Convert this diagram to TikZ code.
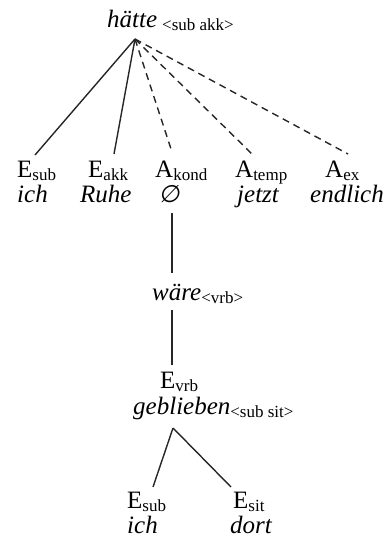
\documentclass[tikz,border=0pt]{standalone}
\usepackage{fontspec}
\setmainfont{Liberation Serif}
\newfontfamily\symfont[FakeSlant=0.15]{DejaVu Sans}
% lowered small label for valency subscripts
\newcommand{\lo}[1]{\raisebox{-3pt}{\fontsize{17}{17}\selectfont #1}}
\begin{document}
\begin{tikzpicture}[x=1pt,y=-1pt,
  word/.style={inner sep=0pt,anchor=base west,font=\fontsize{25}{30}\selectfont},
  link/.style={line width=1.4pt,draw=black!85},
  optlink/.style={link,dash pattern=on 7pt off 5pt}]
\useasboundingbox (0,0) rectangle (389,544);

% top verb
\node[word] (hatte) at (107,27) {\textit{hätte}\hspace{5pt}\lo{<sub akk>}};
\coordinate (apex) at (135,39);

% complements and adjuncts of the top verb
\node[word] (esub)  at (17,177)  {E\lo{sub}};
\node[word] (eakk)  at (88,177)  {E\lo{akk}};
\node[word] (akond) at (155,177) {A\lo{kond}};
\node[word] (atemp) at (235,177) {A\lo{temp}};
\node[word] (aex)   at (325,177) {A\lo{ex}};

\node[word] (ich)     at (17,202)  {\textit{ich}};
\node[word] (ruhe)    at (80,202)  {\textit{Ruhe}};
\node[word] (empty)   at (159,202) {\symfont\fontsize{24}{28}\selectfont ∅};
\node[word] (jetzt)   at (237,202) {\textit{jetzt}};
\node[word] (endlich) at (310,202) {\textit{endlich}};

\coordinate (esub-t)  at (35,155);
\coordinate (eakk-t)  at (114,154);
\coordinate (akond-t) at (172,152);
\coordinate (atemp-t) at (252,154);
\coordinate (aex-t)   at (348,154);

\draw[link] (apex) -- (esub-t);
\draw[link] (apex) -- (eakk-t);
\draw[optlink] (apex) -- (akond-t);
\draw[optlink] (apex) -- (atemp-t);
\draw[optlink] (apex) -- (aex-t);

% embedded verb chain
\coordinate (empty-b) at (172,213);
\coordinate (ware-t)  at (172,273);
\draw[link] (empty-b) -- (ware-t);

\node[word] (ware) at (152,300) {\textit{wäre}\lo{<vrb>}};
\coordinate (ware-b) at (172,310);
\coordinate (evrb-t) at (172,365);
\draw[link] (ware-b) -- (evrb-t);

\node[word] (evrb) at (160,388) {E\lo{vrb}};
\node[word] (geblieben) at (133,414) {\textit{geblieben}\lo{<sub sit>}};
\coordinate (gapex) at (173,428);

\node[word] (esub2) at (127,508) {E\lo{sub}};
\node[word] (esit)  at (233,508) {E\lo{sit}};
\node[word] (ich2)  at (127,533) {\textit{ich}};
\node[word] (dort)  at (230,533) {\textit{dort}};

\coordinate (esub2-t) at (153,487);
\coordinate (esit-t)  at (231,487);
\draw[link] (gapex) -- (esub2-t);
\draw[link] (gapex) -- (esit-t);
\end{tikzpicture}
\end{document}
